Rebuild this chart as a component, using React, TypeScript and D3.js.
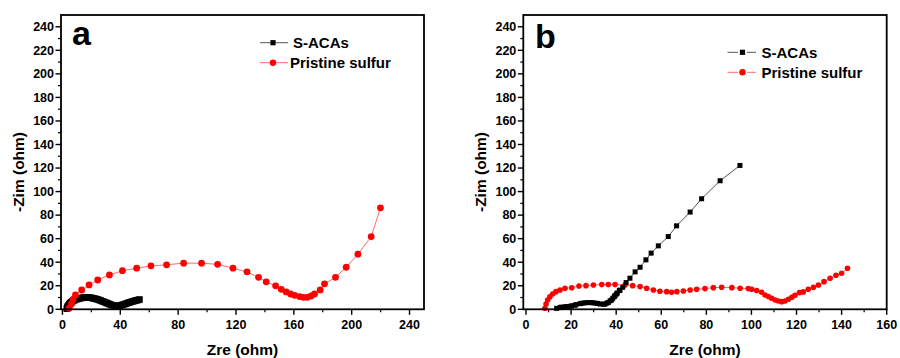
import React from "react";
import * as d3 from "d3";

// panel a: Nyquist data (Zre, -Zim) in ohm
const aSacasX = [3.0, 3.3, 3.7, 4.2, 4.8, 5.4, 6.0, 6.8, 7.6, 8.5, 9.5, 10.5, 11.5, 12.5, 13.5, 14.5, 15.5, 16.5, 17.5, 18.5, 19.5, 20.5, 21.5, 22.5, 23.5, 24.5, 25.5, 26.5, 27.5, 28.5, 29.5, 30.5, 31.5, 32.5, 33.5, 34.5, 35.5, 36.5, 37.5, 38.5, 39.5, 40.5, 41.5, 42.5, 43.5, 44.5, 45.5, 46.5, 47.5, 48.5, 49.5, 50.5, 51.5, 52.5, 53.3];
const aSacasY = [0.5, 1.5, 2.5, 3.5, 4.5, 5.3, 6.0, 6.8, 7.4, 7.9, 8.4, 8.8, 9.2, 9.5, 9.7, 9.9, 10.0, 10.0, 10.0, 9.9, 9.8, 9.6, 9.3, 9.0, 8.7, 8.3, 7.9, 7.4, 6.9, 6.4, 5.9, 5.4, 4.9, 4.4, 3.9, 3.5, 3.1, 2.8, 2.7, 2.8, 3.0, 3.4, 3.8, 4.2, 4.6, 5.1, 5.5, 5.9, 6.3, 6.7, 7.0, 7.4, 7.7, 8.0, 8.3];
const aSulfurX = [4.6, 6.2, 7.3, 9.0, 13.3, 18.4, 24.4, 32.5, 41.5, 51.3, 61.2, 72.0, 83.8, 96.2, 107.3, 117.9, 127.6, 135.6, 140.9, 147.4, 151.3, 154.7, 157.7, 160.5, 164.0, 166.7, 169.3, 172.0, 174.3, 178.2, 181.2, 188.8, 196.2, 204.3, 213.5, 219.9];
const aSulfurY = [0.9, 4.5, 8.5, 12.2, 16.4, 20.7, 24.9, 29.2, 32.8, 34.9, 36.9, 37.8, 39.2, 39.2, 38.2, 34.9, 31.8, 27.2, 23.3, 19.9, 17.0, 14.8, 13.0, 11.9, 10.8, 10.2, 10.2, 11.3, 13.0, 16.5, 21.6, 27.2, 35.7, 46.8, 61.8, 86.2];

// panel b
const bSacasX = [13.6, 15.1, 15.8, 17.3, 18.0, 19.5, 20.3, 21.7, 22.2, 24.0, 25.0, 26.2, 27.3, 28.4, 29.5, 30.6, 31.7, 32.8, 34.3, 35.0, 35.8, 36.5, 37.3, 38.0, 38.5, 39.2, 39.5, 40.2, 40.5, 41.4, 41.7, 42.9, 44.4, 46.1, 48.4, 50.6, 53.2, 55.5, 58.7, 63.1, 66.8, 72.8, 77.9, 86.1, 94.9];
const bSacasY = [0.8, 1.5, 1.9, 2.0, 2.3, 2.5, 3.0, 3.4, 4.0, 4.8, 5.2, 5.5, 5.7, 5.7, 5.6, 5.3, 5.0, 4.5, 4.3, 4.4, 5.2, 5.8, 7.2, 7.9, 9.4, 10.8, 11.8, 13.0, 13.9, 15.9, 16.3, 18.7, 22.7, 26.4, 31.8, 35.7, 42.0, 47.7, 53.9, 61.8, 70.9, 82.6, 93.9, 109.2, 122.2];
const bSulfurX = [8.4, 8.9, 9.6, 10.6, 11.8, 13.3, 15.1, 17.3, 20.3, 23.5, 26.6, 29.9, 33.6, 36.5, 39.5, 43.9, 47.3, 50.6, 53.5, 56.5, 59.4, 62.4, 64.6, 66.9, 69.8, 72.8, 75.7, 79.4, 83.1, 86.8, 91.3, 95.0, 98.6, 100.1, 102.3, 104.5, 106.0, 107.5, 109.0, 110.5, 111.9, 113.4, 114.9, 116.4, 117.9, 119.3, 121.3, 123.0, 125.2, 127.5, 129.7, 132.2, 134.9, 137.5, 140.0, 142.6];
const bSulfurY = [0.9, 4.5, 7.9, 10.7, 13.0, 15.0, 16.4, 17.9, 18.3, 19.8, 20.1, 20.7, 21.0, 21.0, 21.0, 20.7, 20.1, 19.3, 17.9, 16.4, 15.3, 15.0, 14.5, 15.0, 15.6, 16.4, 17.0, 17.6, 18.4, 18.7, 18.4, 17.9, 17.6, 17.0, 15.9, 14.5, 12.2, 10.8, 9.4, 7.9, 7.1, 6.5, 7.1, 8.5, 10.2, 11.9, 14.2, 14.8, 17.0, 18.7, 20.7, 23.5, 26.4, 28.9, 30.6, 34.9];

const seriesNames = ["S-ACAs", "Pristine sulfur"];
const yMajor = d3.range(0, 241, 20);
const yMinor = d3.range(10, 241, 20);

const FONT = "'Liberation Sans', Arial, sans-serif";
const RED = "#ff0000";
const RED_LINE = "#ff6a6a";
const GREY_LINE = "#555";

const zip = (xs: number[], ys: number[]) => xs.map((x, i) => [x, ys[i]] as [number, number]);

type PanelProps = {
  letter: string;
  left: number;
  right: number;
  xDomain: [number, number];
  xMajor: number[];
  xMinor: number[];
  sacas: [number, number][];
  sulfur: [number, number][];
  squareSize: number;
  circleR: number;
  redOnTop: boolean;
  letterPos: [number, number];
  legend: { lineX: [number, number]; markX: number; textX: [number, number]; rows: [number, number]; gap: boolean };
};

const top = 15;
const bottom = 309.3;

function Panel(p: PanelProps) {
  const x = d3.scaleLinear().domain(p.xDomain).range([p.left, p.right]);
  const y = d3.scaleLinear().domain([0, 250]).range([bottom, top]);
  const line = d3.line<[number, number]>().x(d => x(d[0])).y(d => y(d[1]));
  const s = p.squareSize;
  const cx = (p.left + p.right) / 2;
  const lg = p.legend;

  const legendLine = (yy: number, color: string) =>
    lg.gap ? (
      <g stroke={color} strokeWidth={1}>
        <line x1={lg.lineX[0]} x2={lg.markX - 4.5} y1={yy} y2={yy} />
        <line x1={lg.markX + 4.5} x2={lg.lineX[1]} y1={yy} y2={yy} />
      </g>
    ) : (
      <line x1={lg.lineX[0]} x2={lg.lineX[1]} y1={yy} y2={yy} stroke={color} strokeWidth={1} />
    );

  const red = (
    <g>
      <path d={line(p.sulfur) || ""} fill="none" stroke={RED_LINE} strokeWidth={1} />
      {p.sulfur.map((d, i) => (
        <circle key={"r" + i} cx={x(d[0])} cy={y(d[1])} r={p.circleR} fill={RED} />
      ))}
    </g>
  );
  const black = (
    <g>
      <path d={line(p.sacas) || ""} fill="none" stroke={GREY_LINE} strokeWidth={1} />
      {p.sacas.map((d, i) => (
        <rect key={"k" + i} x={x(d[0]) - s / 2} y={y(d[1]) - s / 2} width={s} height={s} fill="#000" />
      ))}
    </g>
  );

  return (
    <g fontFamily={FONT} fontWeight="bold">
      {/* data */}
      {p.redOnTop ? black : red}
      {p.redOnTop ? red : black}

      {/* frame */}
      <rect x={p.left} y={top} width={p.right - p.left} height={bottom - top} fill="none" stroke="#000" strokeWidth={1.8} />

      {/* y axis */}
      {yMajor.map(v => (
        <g key={"ym" + v}>
          <line x1={p.left - 5.5} x2={p.left} y1={y(v)} y2={y(v)} stroke="#000" strokeWidth={1.4} />
          <text x={p.left - 7} y={y(v)} dy="0.35em" textAnchor="end" fontSize={12.5}>{v}</text>
        </g>
      ))}
      {yMinor.map(v => (
        <line key={"yn" + v} x1={p.left - 3} x2={p.left} y1={y(v)} y2={y(v)} stroke="#000" strokeWidth={1.2} />
      ))}
      <text transform={`translate(${p.left - 37},172) rotate(-90)`} textAnchor="middle" fontSize={15.5}>-Zim (ohm)</text>

      {/* x axis */}
      {p.xMajor.map(v => (
        <g key={"xm" + v}>
          <line x1={x(v)} x2={x(v)} y1={bottom} y2={bottom + 5.5} stroke="#000" strokeWidth={1.4} />
          <text x={x(v)} y={bottom + 20} textAnchor="middle" fontSize={12.5}>{v}</text>
        </g>
      ))}
      {p.xMinor.map(v => (
        <line key={"xn" + v} x1={x(v)} x2={x(v)} y1={bottom} y2={bottom + 3} stroke="#000" strokeWidth={1.2} />
      ))}
      <text x={cx} y={355} textAnchor="middle" fontSize={15.5}>Zre (ohm)</text>

      {/* panel letter */}
      <text x={p.letterPos[0]} y={p.letterPos[1]} fontSize={34}>{p.letter}</text>

      {/* legend */}
      {legendLine(lg.rows[0], GREY_LINE)}
      <rect x={lg.markX - 2.6} y={lg.rows[0] - 2.6} width={5.2} height={5.2} fill="#000" />
      <text x={lg.textX[0]} y={lg.rows[0]} dy="0.36em" fontSize={15}>{seriesNames[0]}</text>
      {legendLine(lg.rows[1], RED_LINE)}
      <circle cx={lg.markX} cy={lg.rows[1]} r={3.2} fill={RED} />
      <text x={lg.textX[1]} y={lg.rows[1]} dy="0.36em" fontSize={15}>{seriesNames[1]}</text>
    </g>
  );
}

export default function App() {
  return (
    <svg width={900} height={358} style={{ position: "absolute", left: 0, top: 0, background: "#fff" }}>
      <Panel
        letter="a"
        left={61}
        right={424}
        xDomain={[-1, 250]}
        xMajor={d3.range(0, 241, 40)}
        xMinor={d3.range(20, 241, 40)}
        sacas={zip(aSacasX, aSacasY)}
        sulfur={zip(aSulfurX, aSulfurY)}
        squareSize={6.5}
        circleR={3.4}
        redOnTop={true}
        letterPos={[72, 44.5]}
        legend={{ lineX: [260, 288], markX: 273, textX: [293, 290], rows: [42.7, 62.7], gap: false }}
      />
      <Panel
        letter="b"
        left={523.3}
        right={886.7}
        xDomain={[-1.2, 160]}
        xMajor={d3.range(0, 161, 20)}
        xMinor={d3.range(10, 151, 20)}
        sacas={zip(bSacasX, bSacasY)}
        sulfur={zip(bSulfurX, bSulfurY)}
        squareSize={5}
        circleR={2.8}
        redOnTop={false}
        letterPos={[535, 48]}
        legend={{ lineX: [727.5, 756], markX: 742.5, textX: [761.5, 761.5], rows: [52.3, 72.3], gap: true }}
      />
    </svg>
  );
}
